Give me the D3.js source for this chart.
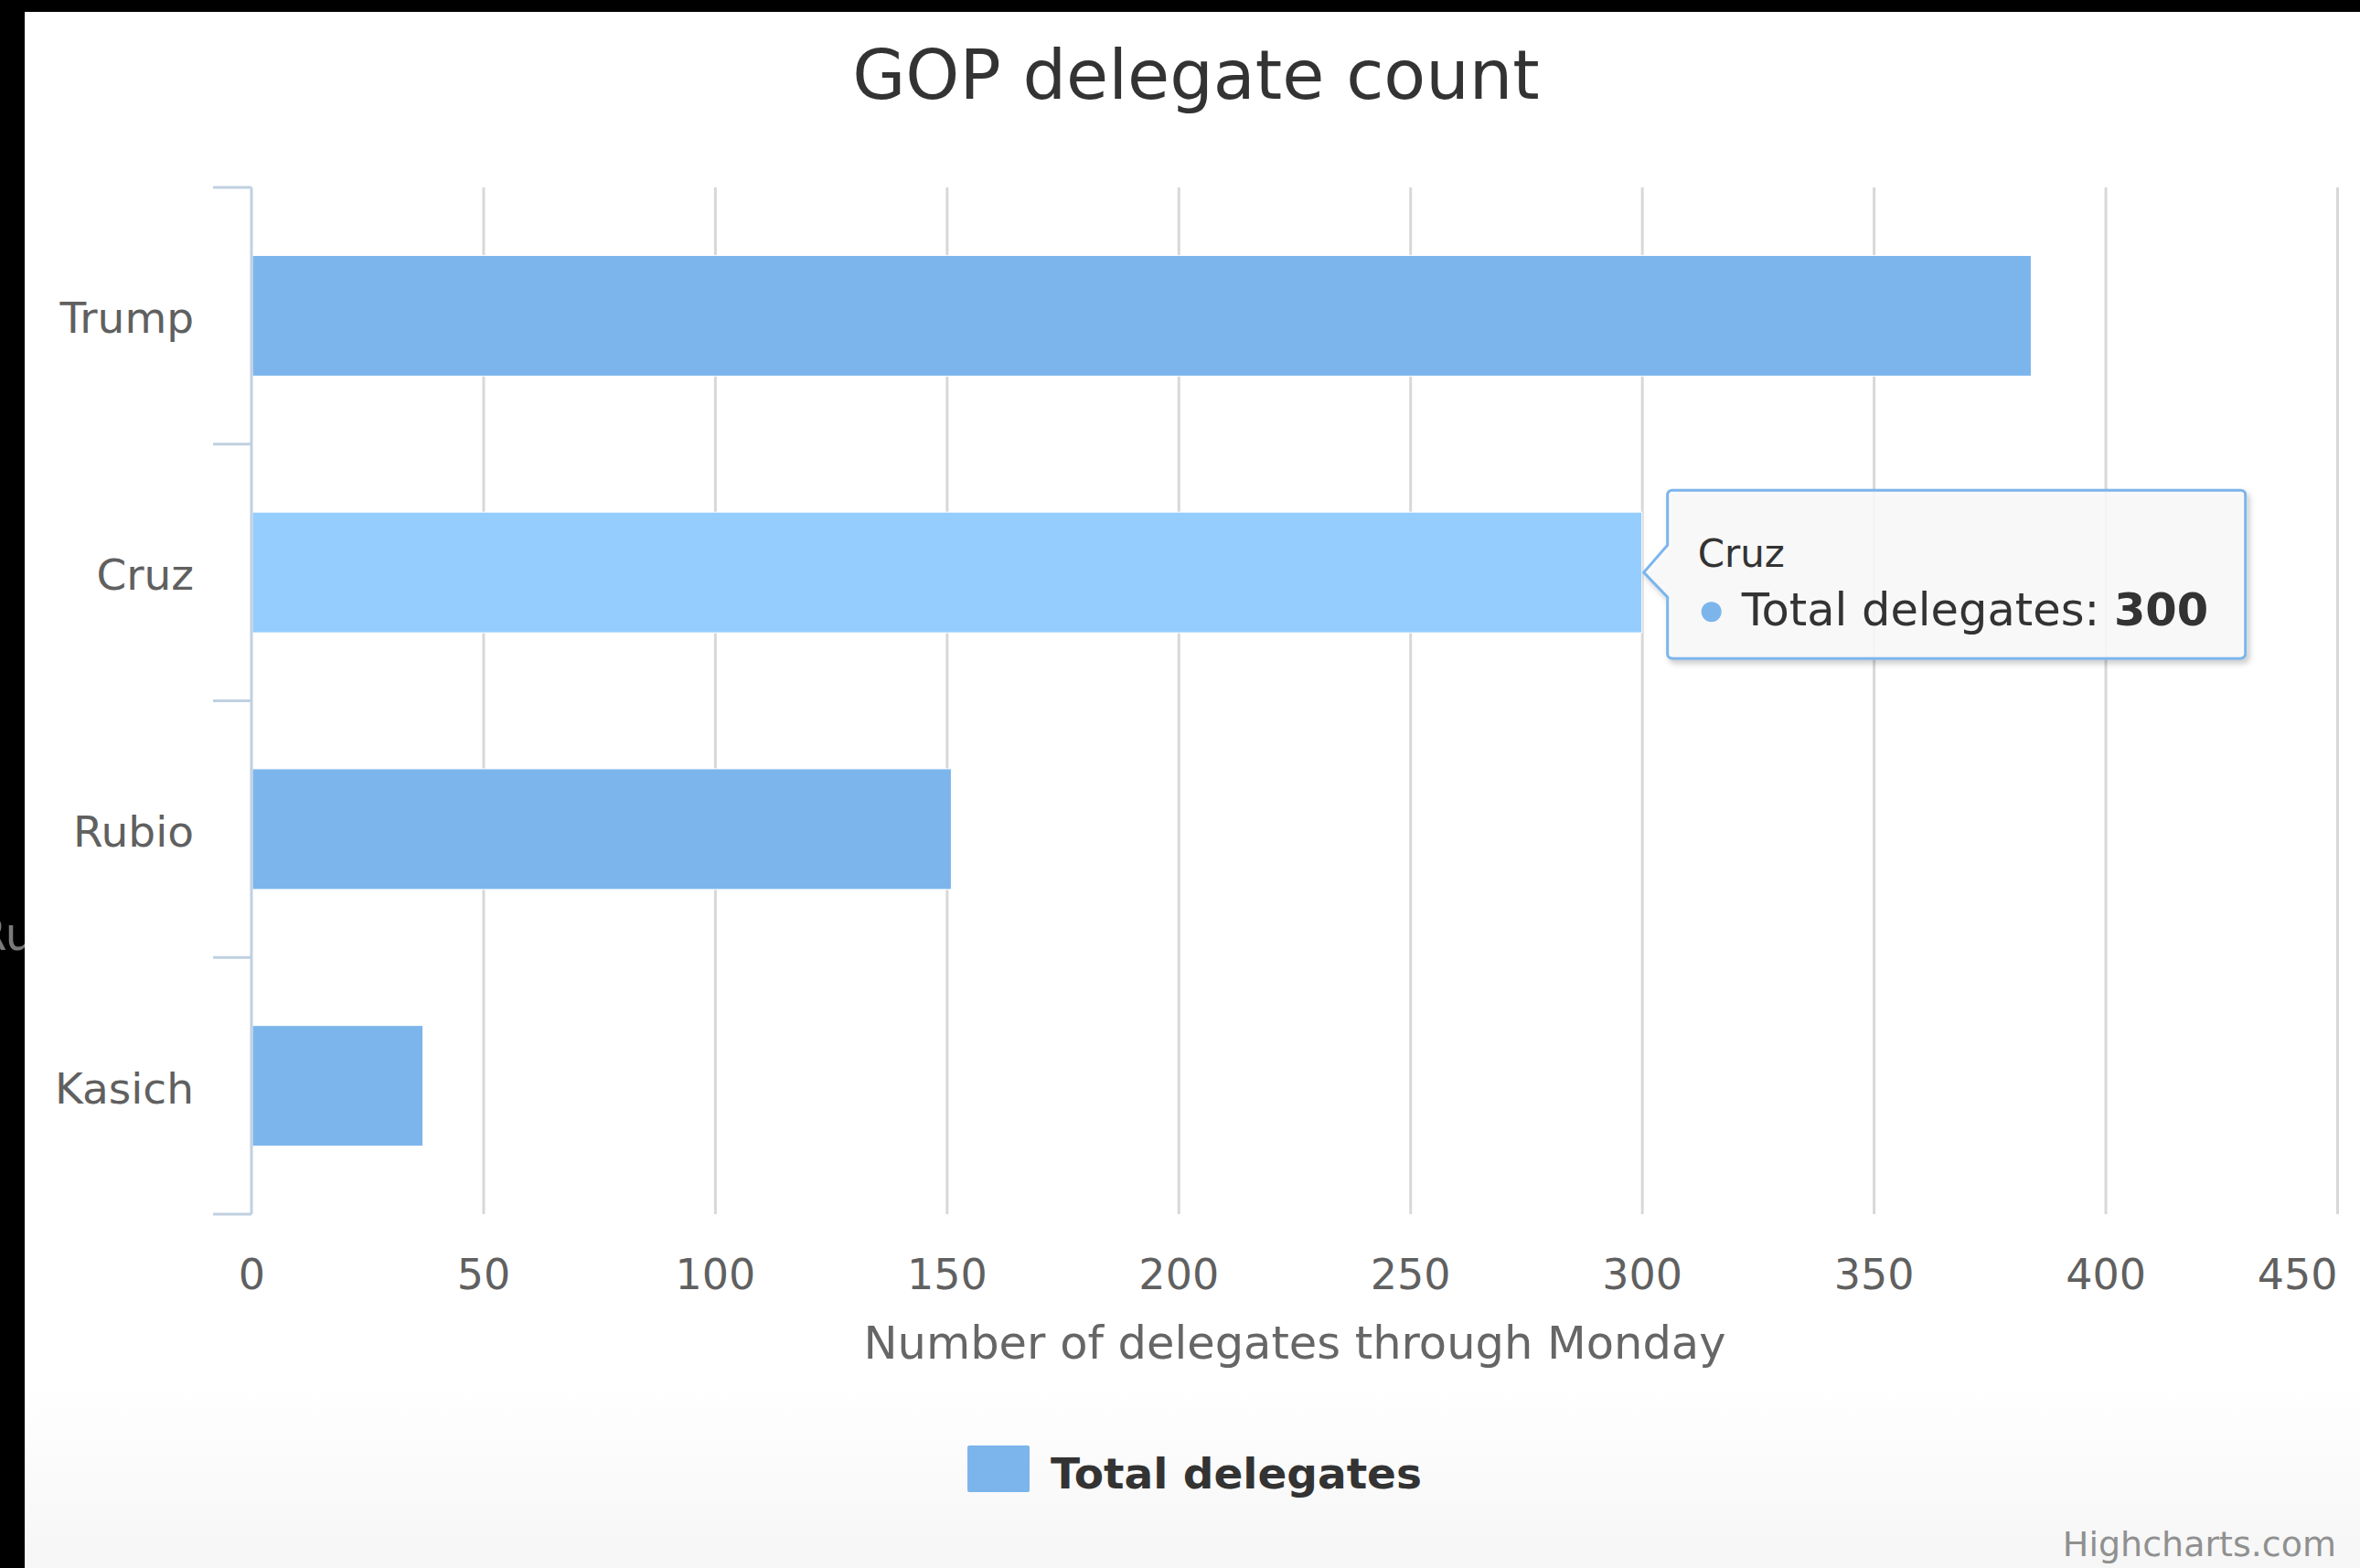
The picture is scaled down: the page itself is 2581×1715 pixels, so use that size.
<html>
  <script src="https://d3js.org/d3.v7.min.js"></script>
  <body style="margin:0; background:#000;">
    <div id="svgcontainer"></div>
    <script>
      // data
      var candidates = ["Trump", "Cruz", "Rubio", "Kasich"];
      var delegates = [384, 300, 151, 37];
      var xTicks = [0, 50, 100, 150, 200, 250, 300, 350, 400, 450];
      var seriesName = "Total delegates";
      var hovered = "Cruz";

      var width = 2581;
      var height = 1715;
      var font = "DejaVu Sans";

      var svg = d3.select("#svgcontainer")
        .append("svg").attr("width", width).attr("height", height)
        .style("display", "block");

      var defs = svg.append("defs");
      var grad = defs.append("linearGradient")
        .attr("id", "bg").attr("x1", 0).attr("y1", 0).attr("x2", 0).attr("y2", 1);
      grad.append("stop").attr("offset", "0").attr("stop-color", "#ffffff");
      grad.append("stop").attr("offset", "0.88").attr("stop-color", "#ffffff");
      grad.append("stop").attr("offset", "1").attr("stop-color", "#f6f6f6");

      var shadow = defs.append("filter").attr("id", "shadow")
        .attr("x", "-10%").attr("y", "-10%").attr("width", "130%").attr("height", "140%");
      shadow.append("feDropShadow")
        .attr("dx", 3).attr("dy", 4).attr("stdDeviation", 3)
        .attr("flood-color", "#000").attr("flood-opacity", 0.22);

      // background: black frame, text peeking from behind, white chart
      svg.append("rect").attr("width", width).attr("height", height).attr("fill", "#000");
      svg.append("text")
        .attr("x", -27).attr("y", 1039)
        .attr("font-family", font).attr("font-size", 50)
        .attr("fill", "#7a7a7a")
        .text("Ru");
      svg.append("rect")
        .attr("x", 27).attr("y", 13)
        .attr("width", width - 27).attr("height", height - 13)
        .attr("fill", "url(#bg)");

      // scales
      var x = d3.scaleLinear().domain([0, 450]).range([275, 2556]);
      var y = d3.scaleBand().domain(candidates).range([205, 1328])
        .paddingInner(0.53).paddingOuter(0.265);
      var yEdge = d3.scaleLinear().domain([0, candidates.length]).range(y.range());

      // grid lines
      svg.append("g")
        .attr("transform", "translate(0,1328)")
        .call(d3.axisBottom(x).tickValues(xTicks.slice(1)).tickSize(-(1328 - 205)).tickFormat(""))
        .call(function(g) { g.select(".domain").remove(); })
        .selectAll("line")
        .attr("stroke", "#d8d8d8")
        .attr("stroke-width", 3);

      // x tick labels (the last one is kept inside the chart)
      svg.append("g")
        .attr("transform", "translate(0,1328)")
        .call(d3.axisBottom(x).tickValues(xTicks).tickSize(0).tickPadding(0))
        .call(function(g) { g.select(".domain").remove(); })
        .selectAll("text")
        .attr("y", 82).attr("dy", 0)
        .attr("font-family", font).attr("font-size", 46)
        .attr("fill", "#606060")
        .attr("text-anchor", function(d, i) { return i == xTicks.length - 1 ? "end" : "middle"; });

      // bars
      svg.append("g").selectAll("rect")
        .data(candidates)
        .join("rect")
        .attr("x", x(0) + 1)
        .attr("y", function(d) { return y(d); })
        .attr("width", function(d, i) { return x(delegates[i]) - x(0) - 1; })
        .attr("height", y.bandwidth())
        .attr("fill", function(d) { return d == hovered ? "#94cdfe" : "#7cb5ec"; })
        .attr("stroke", "#ffffff")
        .attr("stroke-width", 1);

      // category axis
      svg.append("line")
        .attr("x1", 275).attr("x2", 275)
        .attr("y1", 205).attr("y2", 1328)
        .attr("stroke", "#c0d0e0").attr("stroke-width", 3);
      svg.append("g").selectAll("line")
        .data(d3.range(candidates.length + 1))
        .join("line")
        .attr("x1", 233).attr("x2", 275)
        .attr("y1", function(d) { return yEdge(d); })
        .attr("y2", function(d) { return yEdge(d); })
        .attr("stroke", "#c0d0e0").attr("stroke-width", 3);
      svg.append("g").selectAll("text")
        .data(candidates)
        .join("text")
        .attr("x", 212)
        .attr("y", function(d) { return y(d) + y.bandwidth() / 2 + 19; })
        .attr("text-anchor", "end")
        .attr("font-family", font).attr("font-size", 47)
        .attr("fill", "#606060")
        .text(function(d) { return d; });

      // title and axis title
      svg.append("text")
        .attr("x", 1308).attr("y", 108)
        .attr("text-anchor", "middle")
        .attr("font-family", font).attr("font-size", 75)
        .attr("fill", "#333333")
        .text("GOP delegate count");

      svg.append("text")
        .attr("x", 1416).attr("y", 1486)
        .attr("text-anchor", "middle")
        .attr("font-family", font).attr("font-size", 49.5)
        .attr("fill", "#666666")
        .text("Number of delegates through Monday");

      // legend
      svg.append("rect")
        .attr("x", 1058).attr("y", 1581)
        .attr("width", 68).attr("height", 51)
        .attr("rx", 2)
        .attr("fill", "#7cb5ec");
      svg.append("text")
        .attr("x", 1149).attr("y", 1628)
        .attr("font-family", font).attr("font-size", 47)
        .attr("font-weight", "bold")
        .attr("fill", "#333333")
        .text(seriesName);

      // credits
      svg.append("text")
        .attr("x", 2555).attr("y", 1702)
        .attr("text-anchor", "end")
        .attr("font-family", font).attr("font-size", 38)
        .attr("fill", "#909090")
        .text("Highcharts.com");

      // tooltip for the hovered bar
      var hi = candidates.indexOf(hovered);
      var tipX = x(delegates[hi]) + 2;
      var tipY = y(hovered) + y.bandwidth() / 2;
      var bx = tipX + 26, by = tipY - 90, bw = 632, bh = 184, r = 5;
      var tipPath = d3.path();
      tipPath.moveTo(bx + r, by);
      tipPath.lineTo(bx + bw - r, by);
      tipPath.arcTo(bx + bw, by, bx + bw, by + r, r);
      tipPath.lineTo(bx + bw, by + bh - r);
      tipPath.arcTo(bx + bw, by + bh, bx + bw - r, by + bh, r);
      tipPath.lineTo(bx + r, by + bh);
      tipPath.arcTo(bx, by + bh, bx, by + bh - r, r);
      tipPath.lineTo(bx, tipY + 27);
      tipPath.lineTo(tipX, tipY);
      tipPath.lineTo(bx, tipY - 30);
      tipPath.lineTo(bx, by + r);
      tipPath.arcTo(bx, by, bx + r, by, r);
      tipPath.closePath();

      var tip = svg.append("g");
      tip.append("path")
        .attr("d", tipPath.toString())
        .attr("fill", "rgba(250,250,250,0.88)")
        .attr("stroke", "#7cb5ec")
        .attr("stroke-width", 3)
        .attr("filter", "url(#shadow)");
      tip.append("text")
        .attr("x", bx + 33).attr("y", by + 84)
        .attr("font-family", font).attr("font-size", 42)
        .attr("fill", "#333333")
        .text(hovered);
      tip.append("circle")
        .attr("cx", bx + 48).attr("cy", by + 133)
        .attr("r", 11)
        .attr("fill", "#7cb5ec");
      var line = tip.append("text")
        .attr("x", bx + 81).attr("y", by + 148)
        .attr("font-family", font).attr("font-size", 49.5)
        .attr("fill", "#333333");
      line.append("tspan").text(seriesName + ": ");
      line.append("tspan").attr("font-weight", "bold").text(delegates[hi]);
    </script>
  </body>
</html>
